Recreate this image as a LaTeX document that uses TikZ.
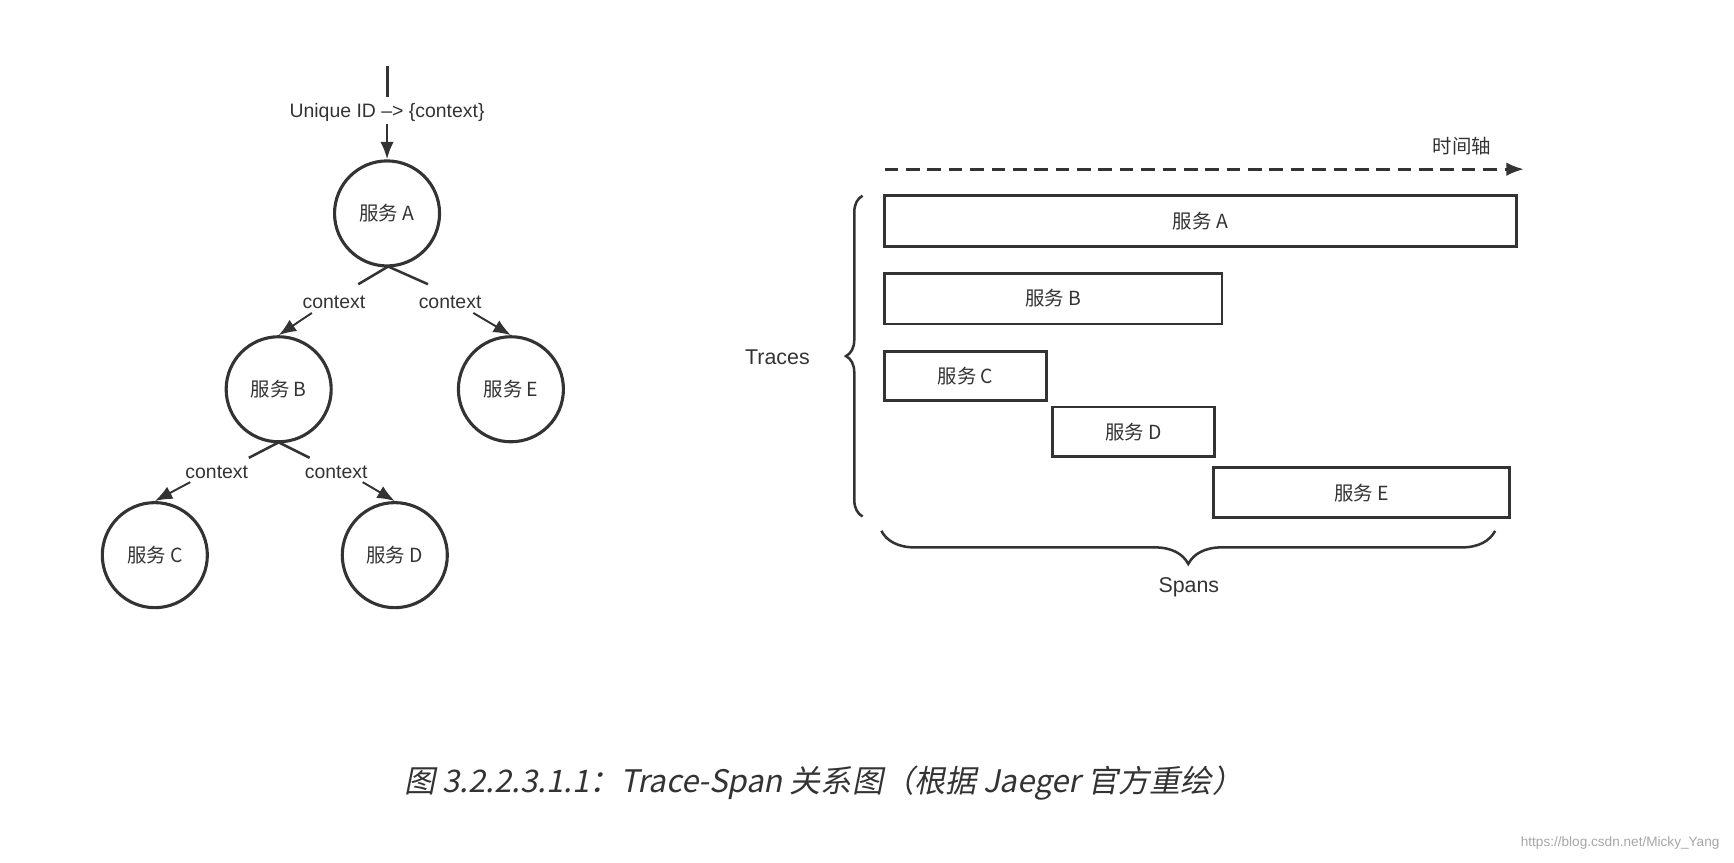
\documentclass[tikz,border=0pt]{standalone}
\usepackage{fontspec}
\setmainfont{Liberation Sans}
\newfontfamily\cjk{Noto Sans CJK SC}
\newfontfamily\cjkit{Noto Sans CJK SC}[FakeSlant=0.2]
\usetikzlibrary{arrows.meta,decorations.pathreplacing}
\definecolor{ink}{HTML}{333333}
\begin{document}
\begin{tikzpicture}[x=0.02cm,y=-0.02cm,
  svc/.style={circle,draw=ink,line width=1.6pt,minimum size=1.9cm,inner sep=0pt,font=\fontsize{10}{12}\selectfont\cjk,text=ink},
  span/.style={draw=ink,line width=1.4pt,inner sep=0pt,font=\fontsize{10}{12}\selectfont\cjk,text=ink},
  lbl/.style={font=\fontsize{10}{12}\selectfont,text=ink,inner sep=1pt},
  conn/.style={draw=ink,line width=1pt},
  arr/.style={conn,-{Latex[length=9pt,width=7pt]}}]
\useasboundingbox (0,0) rectangle (1568,780);
% tree
\node[svc] (A) at (350,193) {服务 A};
\node[svc] (B) at (252,352) {服务 B};
\node[svc] (E) at (462,352) {服务 E};
\node[svc] (C) at (140,502) {服务 C};
\node[svc] (D) at (357,502) {服务 D};
\coordinate (t0) at (350,60); \coordinate (t1) at (350,88);
\draw[ink,line width=1.6pt] (t0)--(t1);
\node[lbl] (uid) at (350,102) {Unique ID –> \{context\}};
\draw[arr,line width=1.4pt] (uid.south) -- (A.north);
% A -> B, A -> E
\coordinate (ax) at (351,241);
\coordinate (al) at (324,257); \coordinate (ar) at (387,257);
\draw[conn,line width=1.3pt] (al)--(ax)--(ar);
\node[lbl] (cab) at (302,273) {context};
\node[lbl] (cae) at (407,273) {context};
\coordinate (bl0) at (282,283); \coordinate (el0) at (428,283);
\draw[arr] (bl0) -- (B.north);
\draw[arr] (el0) -- (E.north);
% B -> C, B -> D
\coordinate (bx) at (252,400);
\coordinate (bl) at (225,414); \coordinate (br) at (280,414);
\draw[conn,line width=1.3pt] (bl)--(bx)--(br);
\node[lbl] (cbc) at (196,427) {context};
\node[lbl] (cbd) at (304,427) {context};
\coordinate (c0) at (172,436); \coordinate (d0) at (328,436);
\draw[arr] (c0) -- (C.north);
\draw[arr] (d0) -- (D.north);
% timeline
\coordinate (tl0) at (800,153); \coordinate (tl1) at (1378,153);
\draw[ink,line width=1.4pt,dash pattern=on 7pt off 4pt,-{Latex[length=9pt,width=7pt]}] (tl0)--(tl1);
\node[font=\fontsize{10}{12}\selectfont\cjk,text=ink] (axis) at (1322,132) {时间轴};
\node[span,minimum width=571*0.02cm,minimum height=46*0.02cm] (sA) at (1085.5,200) {服务 A};
\node[span,minimum width=305*0.02cm,minimum height=46*0.02cm] (sB) at (952.5,270) {服务 B};
\node[span,minimum width=146*0.02cm,minimum height=44*0.02cm] (sC) at (873,340) {服务 C};
\node[span,minimum width=146*0.02cm,minimum height=45*0.02cm] (sD) at (1025,390.5) {服务 D};
\node[span,minimum width=268*0.02cm,minimum height=45*0.02cm] (sE) at (1231,445.5) {服务 E};
% braces
\coordinate (tb0) at (780,467); \coordinate (tb1) at (780,177);
\draw[ink,line width=1.3pt,decorate,decoration={brace,amplitude=0.3cm}] (tb0)--(tb1);
\node[font=\fontsize{11}{13}\selectfont,text=ink] (traces) at (703,323) {Traces};
\coordinate (sb0) at (1352,480); \coordinate (sb1) at (797,480);
\draw[ink,line width=1.3pt,decorate,decoration={brace,amplitude=0.6cm}] (sb0)--(sb1);
\node[font=\fontsize{11}{13}\selectfont,text=ink] (spans) at (1075,531) {Spans};
% caption
\node[font=\fontsize{16}{19}\selectfont\cjkit,text=ink] (cap) at (745,708) {图 3.2.2.3.1.1：Trace-Span 关系图（根据 Jaeger 官方重绘）};
\node[font=\fontsize{7}{8}\selectfont,text=black!35] (wm) at (1465,762) {https://blog.csdn.net/Micky\_Yang};
\end{tikzpicture}
\end{document}
